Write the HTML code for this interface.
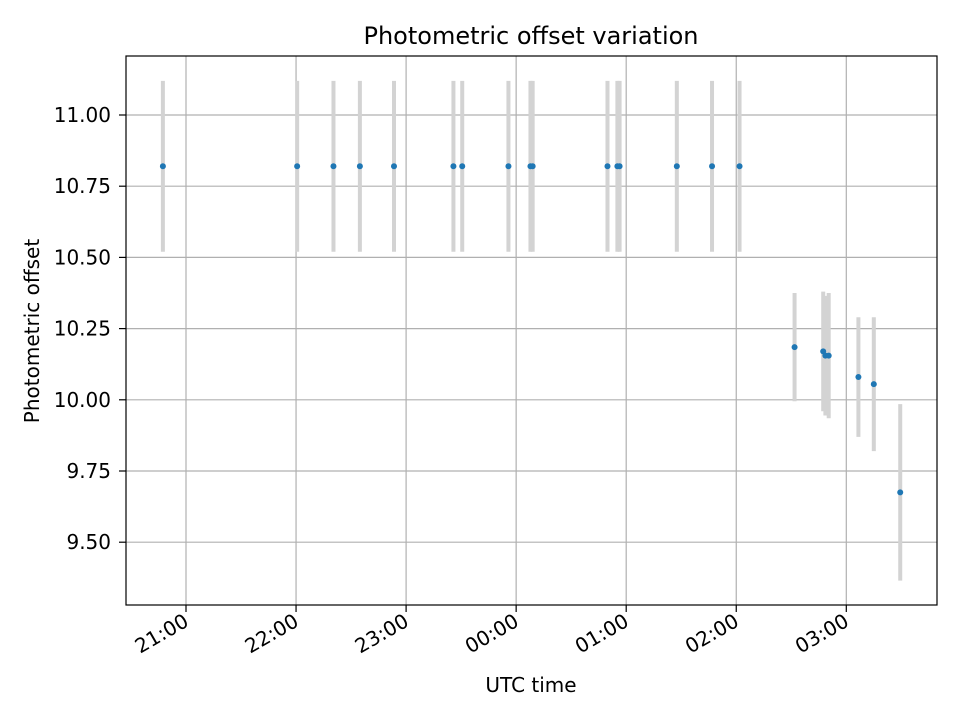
<!DOCTYPE html>
<html><head><meta charset="utf-8"><style>
body{margin:0;background:#fff}
svg text{font-family:"DejaVu Sans","Liberation Sans",sans-serif}
</style></head><body>
<svg id="chart" width="960" height="720" xmlns="http://www.w3.org/2000/svg">
<rect width="960" height="720" fill="#fff"/>
<text x="531" y="44" style="font-size:24px" text-anchor="middle">Photometric offset variation</text>
<g id="grid"></g><g id="errs"></g><g id="pts"></g><g id="axes"></g>
<rect x="126" y="56" width="811" height="549" fill="none" stroke="#000" stroke-width="1.2"/>
<text x="531" y="692" style="font-size:20px" text-anchor="middle">UTC time</text>
<text transform="translate(39,331) rotate(-90)" style="font-size:20px" text-anchor="middle">Photometric offset</text>
</svg>
<script>
// hours relative to 21:00 UTC
const times=[-0.21,1.01,1.34,1.58,1.89,2.43,2.51,2.93,3.13,3.15,3.83,3.92,3.94,4.46,4.78,5.03,5.53,5.79,5.81,5.84,6.11,6.25,6.49];
const offsets=[10.82,10.82,10.82,10.82,10.82,10.82,10.82,10.82,10.82,10.82,10.82,10.82,10.82,10.82,10.82,10.82,10.185,10.17,10.155,10.155,10.08,10.055,9.675];
const errors=[0.3,0.3,0.3,0.3,0.3,0.3,0.3,0.3,0.3,0.3,0.3,0.3,0.3,0.3,0.3,0.3,0.19,0.21,0.21,0.22,0.21,0.235,0.31];
const xTickHours=[0,1,2,3,4,5,6];
const xTickLabels=["21:00","22:00","23:00","00:00","01:00","02:00","03:00"];
const yTicks=[9.5,9.75,10.0,10.25,10.5,10.75,11.0];
const yTickLabels=["9.50","9.75","10.00","10.25","10.50","10.75","11.00"];
const NS="http://www.w3.org/2000/svg";
const X=h=>186+h*110.05;
const Y=v=>115-(v-11)*284.8;
function mk(t,a,p){const e=document.createElementNS(NS,t);for(const k in a)e.setAttribute(k,a[k]);document.getElementById(p).appendChild(e);return e;}
xTickHours.forEach((h,i)=>{
 const g=mk('line',{x1:X(h),x2:X(h),y1:56,y2:605,stroke:'#b0b0b0','stroke-width':1.2},'grid');
 
 
 const t=mk('line',{x1:X(h),x2:X(h),y1:605,y2:612,stroke:'#000','stroke-width':1.2},'axes');
 
 
 const ax=X(h)+4, ay=625;
 const l=mk('text',{x:ax,y:ay,style:'font-size:20px','text-anchor':'end',transform:`rotate(-30 ${ax} ${ay})`},'axes');
 l.textContent=xTickLabels[i];
 
 
});
yTicks.forEach((v,i)=>{
 const g=mk('line',{x1:126,x2:937,y1:Y(v),y2:Y(v),stroke:'#b0b0b0','stroke-width':1.2},'grid');
 
 
 const t=mk('line',{x1:119,x2:126,y1:Y(v),y2:Y(v),stroke:'#000','stroke-width':1.2},'axes');
 
 
 const l=mk('text',{x:111,y:Y(v)+7,style:'font-size:20px','text-anchor':'end'},'axes');
 l.textContent=yTickLabels[i];
 
 
});
times.forEach((h,i)=>{
 const e=mk('line',{x1:X(h),x2:X(h),y1:Y(offsets[i]+errors[i]),y2:Y(offsets[i]-errors[i]),stroke:'#d3d3d3','stroke-width':4},'errs');
 
 
 const c=mk('circle',{cx:X(h),cy:Y(offsets[i]),r:3,fill:'#1f77b4'},'pts');
 
 
});
</script>
</body></html>
